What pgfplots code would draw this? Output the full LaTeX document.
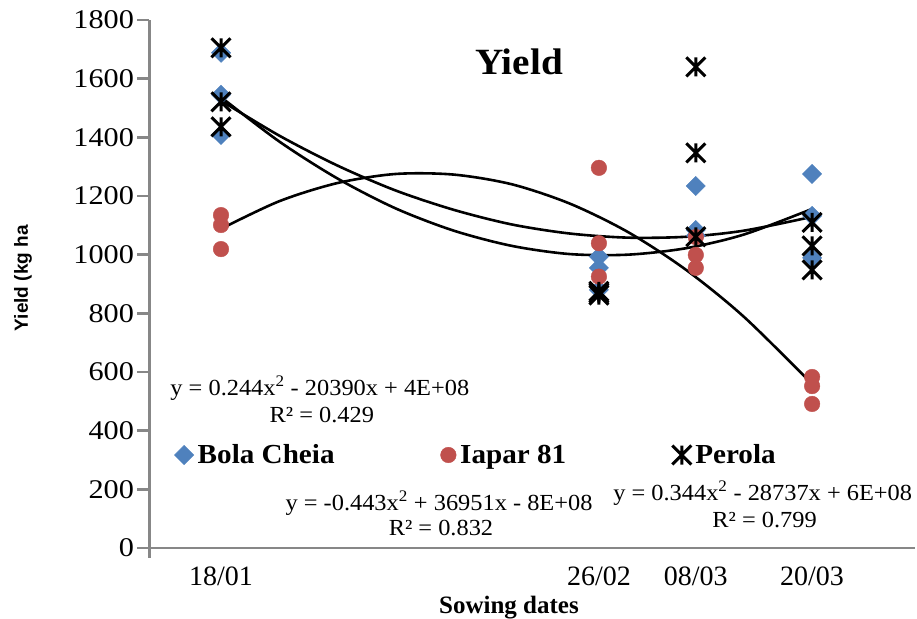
\documentclass[border=0pt]{standalone}
\usepackage{pgfplots}
\pgfplotsset{compat=1.18}
\usepackage{fontspec}
\setmainfont{Liberation Serif}
\setsansfont{Liberation Sans}
\newfontfamily\wideserif[FakeStretch=1.12]{Liberation Serif}
\newfontfamily\midserif[FakeStretch=1.06]{Liberation Serif}
\definecolor{bcblue}{HTML}{4F81BD}
\definecolor{ipred}{HTML}{C0504D}
\definecolor{axgray}{HTML}{878787}
\pgfdeclareplotmark{xstar}{%
 \pgfpathmoveto{\pgfqpoint{-\pgfplotmarksize}{-\pgfplotmarksize}}%
 \pgfpathlineto{\pgfqpoint{\pgfplotmarksize}{\pgfplotmarksize}}%
 \pgfpathmoveto{\pgfqpoint{-\pgfplotmarksize}{\pgfplotmarksize}}%
 \pgfpathlineto{\pgfqpoint{\pgfplotmarksize}{-\pgfplotmarksize}}%
 \pgfpathmoveto{\pgfqpoint{0pt}{-\pgfplotmarksize}}%
 \pgfpathlineto{\pgfqpoint{0pt}{\pgfplotmarksize}}%
 \pgfusepathqstroke}
\begin{document}
\begin{tikzpicture}
\begin{axis}[name=ax,
  scale only axis, width=765.5pt, height=528pt,
  xmin=10.62, xmax=89.62, ymin=0, ymax=1800,
  clip=false,
  axis x line=bottom, axis y line=left,
  axis line style={-, draw=axgray, line width=2.6pt},
  xtick={18,57,67,79}, xticklabels={18/01,26/02,08/03,20/03},
  major x tick style={draw=none},
  ytick={0,200,...,1800},
  tick align=outside,
  major y tick style={draw=axgray, line width=2.4pt},
  major tick length=12pt,
  extra x ticks={10.62}, extra x tick labels={},
  extra x tick style={major tick length=10pt, major x tick style={draw=axgray, line width=2.4pt}},
  /pgf/number format/assume math mode=true,
  /pgf/number format/set thousands separator={},
  yticklabel style={font=\wideserif\fontsize{27}{30}\selectfont},
  xticklabel style={font=\fontsize{28}{30}\selectfont, yshift=-3pt},
  xlabel={Sowing dates},
  xlabel style={at={(axis description cs:0.4696,0)}, anchor=base, yshift=-66pt, inner sep=0pt, font=\bfseries\fontsize{25}{28}\selectfont},
  ylabel={Yield (kg ha},
  ylabel style={at={(axis description cs:0,0.511)}, anchor=center, yshift=126.5pt, inner sep=0pt, font=\sffamily\bfseries\fontsize{19}{22}\selectfont},
  legend style={at={(axis cs:13.18,317)}, anchor=west, draw=none, fill=none, inner sep=0pt,
    font=\midserif\bfseries\fontsize{27.5}{30}\selectfont, nodes={inner sep=1pt},
    /tikz/every odd column/.append style={column sep=3pt},
    /tikz/every even column/.append style={column sep=105pt}},
  legend columns=3,
  legend image code/.code={\draw[#1] plot[only marks] coordinates {(0pt,0pt)};},
]
\addplot[only marks, mark=square*, mark size=6.8pt, mark options={rotate=45, draw=bcblue, fill=bcblue}] coordinates {
 (18,1688) (18,1545) (18,1408)
 (57,993) (57,955) (57,880)
 (67,1234) (67,1084) (67,1065)
 (79,1275) (79,1132) (79,989)};
\addlegendentry{Bola Cheia}
\addplot[only marks, mark=*, mark size=7.8pt, mark options={draw=ipred, fill=ipred}] coordinates {
 (18,1135) (18,1101) (18,1019)
 (57,1296) (57,1039) (57,925)
 (67,1060) (67,999) (67,955)
 (79,583) (79,552) (79,491)};
\addlegendentry{Iapar 81}
\addplot[only marks, mark=xstar, mark size=9.5pt, mark options={draw=black, line width=3pt}] coordinates {
 (18,1705) (18,1521) (18,1436)
 (57,875) (57,869) (57,862)
 (67,1640) (67,1347) (67,1061)
 (79,1110) (79,1030) (79,948)};
\addlegendentry{Perola}
% trendlines
\addplot[forget plot, black, line width=2.6pt, smooth] coordinates {
 (18,1525) (24,1406) (30,1304) (36,1219) (42,1153) (48,1103) (54,1072) (60,1058) (66,1061) (72,1082) (79,1129)};
\addplot[forget plot, black, line width=2.6pt, smooth] coordinates {
 (18,1088) (24,1182) (30,1244) (36,1275) (42,1273) (48,1240) (54,1174) (60,1077) (66,948) (72,787) (79,559)};
\addplot[forget plot, black, line width=2.6pt, smooth] coordinates {
 (18,1537) (24,1386) (30,1260) (36,1158) (42,1082) (48,1030) (54,1002) (60,1000) (66,1022) (72,1069) (79,1156)};
\node[font=\midserif\bfseries\fontsize{37}{40}\selectfont] at (axis cs:48.75,1657) {Yield};
\node[font=\midserif\fontsize{23}{26}\selectfont, inner sep=0pt] at (axis cs:28.2,545) {y = 0.244x\textsuperscript{2} - 20390x + 4E+08};
\node[font=\midserif\fontsize{23}{26}\selectfont, inner sep=0pt] at (axis cs:28.4,453) {R² = 0.429};
\node[font=\midserif\fontsize{23}{26}\selectfont, inner sep=0pt] at (axis cs:40.5,153) {y = -0.443x\textsuperscript{2} + 36951x - 8E+08};
\node[font=\midserif\fontsize{23}{26}\selectfont, inner sep=0pt] at (axis cs:40.7,68) {R² = 0.832};
\node[font=\midserif\fontsize{23}{26}\selectfont, inner sep=0pt] at (axis cs:73.9,188) {y = 0.344x\textsuperscript{2} - 28737x + 6E+08};
\node[font=\midserif\fontsize{23}{26}\selectfont, inner sep=0pt] at (axis cs:74.1,95) {R² = 0.799};
\end{axis}
\pgfresetboundingbox
\path[use as bounding box] ([shift={(-149.5pt,-71pt)}]ax.south west) rectangle ([shift={(2pt,20pt)}]ax.north east);
\end{tikzpicture}
\end{document}
